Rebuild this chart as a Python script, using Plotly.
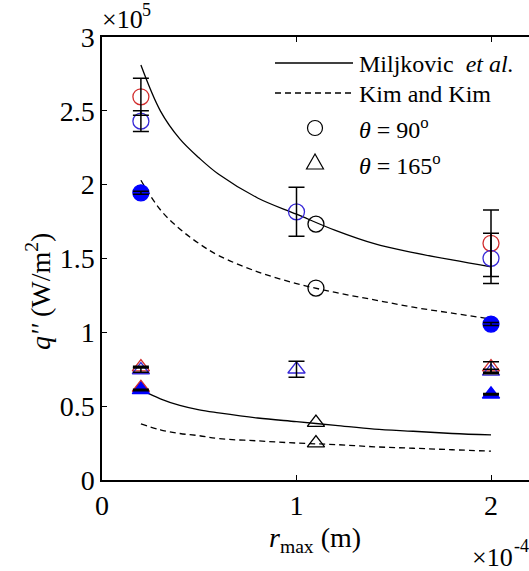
import plotly.graph_objects as go

# ---------------- data ----------------
# model curves (r in m, q in W/m^2)
r_model = [0.2e-4, 0.3e-4, 0.4e-4, 0.5e-4, 0.6e-4, 0.8e-4, 1.0e-4, 1.2e-4, 1.4e-4, 1.6e-4, 1.8e-4, 2.0e-4]
q_milj_90 = [2.81e5, 2.50e5, 2.31e5, 2.18e5, 2.07e5, 1.91e5, 1.80e5, 1.69e5, 1.60e5, 1.54e5, 1.49e5, 1.444e5]
q_kim_90 = [2.03e5, 1.83e5, 1.70e5, 1.60e5, 1.52e5, 1.41e5, 1.33e5, 1.27e5, 1.22e5, 1.17e5, 1.13e5, 1.09e5]
q_milj_165 = [0.61e5, 0.55e5, 0.505e5, 0.475e5, 0.455e5, 0.42e5, 0.395e5, 0.37e5, 0.345e5, 0.33e5, 0.315e5, 0.305e5]
q_kim_165 = [0.38e5, 0.34e5, 0.315e5, 0.30e5, 0.28e5, 0.265e5, 0.25e5, 0.24e5, 0.225e5, 0.215e5, 0.205e5, 0.195e5]

# experimental points
r_red = [0.2e-4, 2.0e-4]
q90_red = [2.595e5, 1.603e5]
e90_red = [0.125e5, 0.225e5]
q165_red = [0.765e5, 0.765e5]
e165_red = [0.005e5, 0.035e5]

r_blue = [0.2e-4, 1.0e-4, 2.0e-4]
q90_blue = [2.43e5, 1.816e5, 1.501e5]
e90_blue = [0.07e5, 0.166e5, 0.17e5]
q165_blue = [0.745e5, 0.75e5, 0.735e5]
e165_blue = [0.015e5, 0.055e5, 0.015e5]

r_fill = [0.2e-4, 2.0e-4]
q90_fill = [1.945e5, 1.056e5]
e90_fill = [0.01e5, 0.01e5]
q165_fill = [0.61e5, 0.58e5]
e165_fill = [0.005e5, 0.005e5]

r_fill_red = [0.2e-4]
q165_fill_red = [0.625e5]

# model points at r = 1.1e-4
r_pred = [1.1e-4, 1.1e-4]
q90_pred = [1.733e5, 1.30e5]
q165_pred = [0.389e5, 0.25e5]

x_tickvals = [0, 1e-4, 2e-4]
x_ticktext = ["0", "1", "2"]
y_tickvals = [0, 0.5e5, 1e5, 1.5e5, 2e5, 2.5e5, 3e5]
y_ticktext = ["0", "0.5", "1", "1.5", "2", "2.5", "3"]

# ---------------- styles ----------------
RED = "rgb(210,45,45)"
BLUE = "rgb(55,40,215)"
FILL = "rgb(0,0,255)"
FONT = "Liberation Serif"

W, H = 529, 571
L, R, T, B = 102, 0, 37, 91
PW, PH = W - L - R, H - T - B


def px(x):
    return (x - L) / PW


def py(y):
    return (H - B - y) / PH


fig = go.Figure()

# curves
for q, dash in [(q_milj_90, "solid"), (q_kim_90, "6px,4px"),
                (q_milj_165, "solid"), (q_kim_165, "6px,4px")]:
    fig.add_trace(go.Scatter(x=r_model, y=q, mode="lines",
                             line=dict(color="black", width=1.3, dash=dash, shape="spline", smoothing=1.0),
                             showlegend=False, hoverinfo="skip"))

CIRC = 16
TRI = 15


def mk(x, y, symbol, size, color, fill=None):
    fig.add_trace(go.Scatter(
        x=x, y=y, mode="markers", showlegend=False,
        marker=dict(symbol=symbol, size=size,
                    color=fill if fill else "rgba(0,0,0,0)",
                    line=dict(color=color, width=1.3))))


def eb(x, y, e):
    fig.add_trace(go.Scatter(
        x=x, y=y, mode="markers", showlegend=False,
        marker=dict(size=1, color="rgba(0,0,0,0)"),
        error_y=dict(type="data", array=e, color="black", thickness=1.5, width=8)))


# markers
mk(r_red, q90_red, "circle", CIRC, RED)
mk(r_blue, q90_blue, "circle", CIRC, BLUE)
mk(r_fill, q90_fill, "circle", CIRC, FILL, FILL)
mk(r_red, q165_red, "triangle-up", TRI, RED)
mk(r_blue, q165_blue, "triangle-up", TRI, BLUE)
mk(r_fill_red, q165_fill_red, "triangle-up", TRI, RED, RED)
mk(r_fill, q165_fill, "triangle-up", TRI, FILL, FILL)
mk(r_pred, q90_pred, "circle", CIRC, "black")
mk(r_pred, q165_pred, "triangle-up", TRI, "black")

# error bars on top
eb(r_red, q90_red, e90_red)
eb(r_blue, q90_blue, e90_blue)
eb(r_fill, q90_fill, e90_fill)
eb(r_red, q165_red, e165_red)
eb(r_blue, q165_blue, e165_blue)
eb(r_fill, q165_fill, e165_fill)

# ---------------- legend (drawn manually) ----------------
shapes = [
    dict(type="line", xref="paper", yref="paper", x0=px(275), x1=px(353), y0=py(63), y1=py(63),
         line=dict(color="black", width=1.3)),
    dict(type="line", xref="paper", yref="paper", x0=px(275), x1=px(353), y0=py(93), y1=py(93),
         line=dict(color="black", width=1.3, dash="6px,4px")),
    dict(type="circle", xref="paper", yref="paper", x0=px(307.5), x1=px(322.5), y0=py(135.5), y1=py(120.5),
         line=dict(color="black", width=1.2)),
    dict(type="path", xref="paper", yref="paper",
         path=f"M {px(315)} {py(154)} L {px(306.5)} {py(169)} L {px(323.5)} {py(169)} Z",
         line=dict(color="black", width=1.2)),
]

ann = []
LF = dict(family=FONT, size=24, color="black")
for text, yy in [("Miljkovic  <i>et al.</i>", 64), ("Kim and Kim", 94),
                 ("<i>θ</i> = 90<sup>o</sup>", 128), ("<i>θ</i> = 165<sup>o</sup>", 164)]:
    ann.append(dict(xref="paper", yref="paper", x=px(357), y=py(yy), text=text, showarrow=False,
                    xanchor="left", yanchor="middle", font=LF))

# exponent labels
EF = dict(family=FONT, size=26, color="black")
SF = dict(family=FONT, size=18, color="black")
ann.append(dict(xref="paper", yref="paper", x=px(100), y=py(20), text="×10",
                showarrow=False, xanchor="left", yanchor="middle", font=EF))
ann.append(dict(xref="paper", yref="paper", x=px(140), y=py(10), text="5",
                showarrow=False, xanchor="left", yanchor="middle", font=SF))
ann.append(dict(xref="paper", yref="paper", x=px(515), y=py(557), text="×10",
                showarrow=False, xanchor="right", yanchor="middle", font=EF))
ann.append(dict(xref="paper", yref="paper", x=px(512), y=py(546), text="-4",
                showarrow=False, xanchor="left", yanchor="middle", font=SF))
# axis titles
ann.append(dict(xref="paper", yref="paper", x=px(315), y=py(539),
                text="<i>r</i><sub>max</sub> (m)", showarrow=False,
                xanchor="center", yanchor="middle", font=dict(family=FONT, size=28)))
ann.append(dict(xref="paper", yref="paper", x=px(38), y=py(292),
                text="<i>q''</i> (W/m<sup>2</sup>)", showarrow=False, textangle=-90,
                xanchor="center", yanchor="middle", font=dict(family=FONT, size=28)))

fig.update_layout(
    width=W, height=H,
    margin=dict(l=L, r=R, t=T, b=B),
    paper_bgcolor="white", plot_bgcolor="white",
    font=dict(family=FONT, size=28, color="black"),
    shapes=shapes, annotations=ann,
    showlegend=False,
)
fig.update_xaxes(range=[0, PW / 194.5 * 1e-4], tickvals=x_tickvals, ticktext=x_ticktext,
                 ticks="inside", ticklen=5, tickwidth=1, tickcolor="black",
                 showline=True, linecolor="black", linewidth=1.5, mirror="ticks",
                 showgrid=False, zeroline=False, tickfont=dict(family=FONT, size=28))
fig.update_yaxes(range=[0, 3e5], tickvals=y_tickvals, ticktext=y_ticktext,
                 ticks="inside", ticklen=5, tickwidth=1, tickcolor="black",
                 showline=True, linecolor="black", linewidth=1.5, mirror=False,
                 showgrid=False, zeroline=False, tickfont=dict(family=FONT, size=28))

fig.write_html("out.html", config={"displayModeBar": False},
               post_script="document.body.style.margin='0';document.body.style.overflow='hidden';")
